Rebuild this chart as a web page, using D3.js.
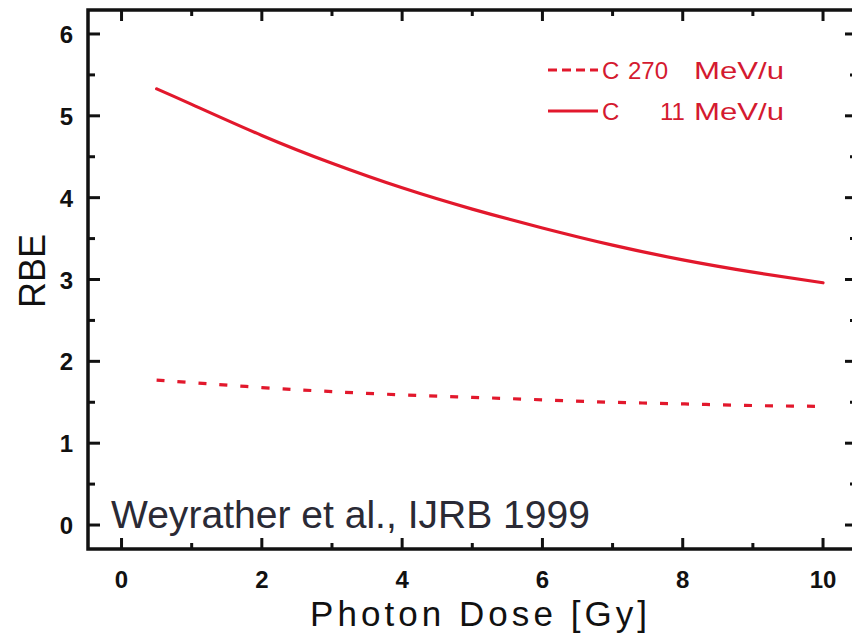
<!DOCTYPE html>
<html>
<head>
<meta charset="utf-8">
<script src="https://cdn.jsdelivr.net/npm/d3@7"></script>
<style>
  html, body { margin: 0; padding: 0; background: #ffffff; }
  svg { display: block; }
</style>
</head>
<body>
<svg id="chart" width="852" height="642"></svg>
<script>
// ---- data ----
const doseValues = [0.5, 1, 2, 3, 4, 5, 6, 7, 8, 9, 10];
const rbeC11 = [5.33, 5.14, 4.76, 4.42, 4.12, 3.86, 3.63, 3.42, 3.24, 3.09, 2.96];
const rbeC270 = [1.77, 1.74, 1.68, 1.63, 1.59, 1.56, 1.53, 1.50, 1.48, 1.46, 1.45];
const xTickValues = [0, 2, 4, 6, 8, 10];
const yTickValues = [0, 1, 2, 3, 4, 5, 6];
const seriesNames = ["C 270 MeV/u", "C 11 MeV/u"];
const xLabel = "Photon Dose [Gy]";
const yLabel = "RBE";
const citation = "Weyrather et al., IJRB 1999";

(function () {
const svg = d3.select("#chart");
const pL = 88, pR = 856, pT = 10, pB = 549;
const red = "#e2182c";

const x = d3.scaleLinear().domain([-0.478, 10.47]).range([pL, pR]);
const y = d3.scaleLinear().domain([-0.293, 6.293]).range([pB, pT]);

const g = svg.append("g");

// ticks (inward) on all four sides
const majorX = d3.range(0, 11, 2), minorX = d3.range(1, 11, 2);
const majorY = d3.range(0, 7, 1), minorY = d3.range(0.5, 6.5, 1);
const tickG = g.append("g").attr("stroke", "#111").attr("stroke-width", 3);
majorX.forEach(v => {
  tickG.append("line").attr("x1", x(v)).attr("x2", x(v)).attr("y1", pB).attr("y2", pB - 11);
  tickG.append("line").attr("x1", x(v)).attr("x2", x(v)).attr("y1", pT).attr("y2", pT + 11);
});
minorX.forEach(v => {
  tickG.append("line").attr("x1", x(v)).attr("x2", x(v)).attr("y1", pB).attr("y2", pB - 6);
  tickG.append("line").attr("x1", x(v)).attr("x2", x(v)).attr("y1", pT).attr("y2", pT + 6);
});
majorY.forEach(v => {
  tickG.append("line").attr("y1", y(v)).attr("y2", y(v)).attr("x1", pL).attr("x2", pL + 12);
  tickG.append("line").attr("y1", y(v)).attr("y2", y(v)).attr("x1", pR).attr("x2", pR - 11);
});
minorY.forEach(v => {
  tickG.append("line").attr("y1", y(v)).attr("y2", y(v)).attr("x1", pL).attr("x2", pL + 7);
  tickG.append("line").attr("y1", y(v)).attr("y2", y(v)).attr("x1", pR).attr("x2", pR - 6);
});

// frame
g.append("rect").attr("x", pL).attr("y", pT).attr("width", pR - pL).attr("height", pB - pT)
  .attr("fill", "none").attr("stroke", "#111").attr("stroke-width", 3.5);

// tick labels
const tickFont = "'Liberation Sans', Arial, sans-serif";
g.selectAll(".xt").data(xTickValues).enter().append("text")
  .attr("x", d => x(d)).attr("y", 588)
  .attr("text-anchor", "middle")
  .attr("font-family", tickFont).attr("font-weight", "bold").attr("font-size", 24)
  .attr("fill", "#111").text(d => d);
g.selectAll(".yt").data(yTickValues).enter().append("text")
  .attr("x", 73).attr("y", d => y(d) + 9)
  .attr("text-anchor", "end")
  .attr("font-family", tickFont).attr("font-weight", "bold").attr("font-size", 24)
  .attr("fill", "#111").text(d => d);

// axis titles
g.append("text").attr("x", 310).attr("y", 626)
  .attr("font-family", tickFont).attr("font-size", 35).attr("fill", "#111")
  .attr("textLength", 337).attr("lengthAdjust", "spacing")
  .text(xLabel);
g.append("text").attr("transform", "translate(45,271) rotate(-90)")
  .attr("text-anchor", "middle")
  .attr("font-family", tickFont).attr("font-size", 36).attr("fill", "#111")
  .text(yLabel);

// data lines
const pts = vals => doseValues.map((d, i) => [d, vals[i]]);
const line = d3.line().x(d => x(d[0])).y(d => y(d[1])).curve(d3.curveNatural);
g.append("path").attr("d", line(pts(rbeC11)))
  .attr("fill", "none").attr("stroke", red).attr("stroke-width", 3.2).attr("stroke-linecap", "round");
g.append("path").attr("d", line(pts(rbeC270)))
  .attr("fill", "none").attr("stroke", red).attr("stroke-width", 3.2)
  .attr("stroke-dasharray", "8 13");

// legend
const legFont = "'Liberation Sans', Arial, sans-serif";
const legRows = [
  { dash: "9 5", parts: [["C", 602, null], ["270", 628, null], ["MeV/u", 694, 90]], y: 70 },
  { dash: null, parts: [["C", 602, null], ["11", 660, null], ["MeV/u", 694, 90]], y: 111 }
];
legRows.forEach((r, i) => {
  const ln = g.append("line").attr("x1", 548).attr("x2", 598).attr("y1", r.y).attr("y2", r.y)
    .attr("stroke", red).attr("stroke-width", 3);
  if (r.dash) ln.attr("stroke-dasharray", r.dash);
  const t = g.append("text").attr("y", r.y + 9)
    .attr("font-family", legFont).attr("font-size", 24).attr("fill", "#d41a30")
    .attr("aria-label", seriesNames[i]);
  r.parts.forEach(p => {
    const s = t.append("tspan").attr("x", p[1]).text(p[0]);
    if (p[2]) s.attr("textLength", p[2]).attr("lengthAdjust", "spacingAndGlyphs");
  });
});

// citation
g.append("text").attr("x", 111).attr("y", 528)
  .attr("font-family", "Arial, 'Liberation Sans', sans-serif").attr("font-size", 38)
  .attr("fill", "#2a2a35")
  .attr("textLength", 479).attr("lengthAdjust", "spacingAndGlyphs")
  .text(citation);
})();
</script>
</body>
</html>
